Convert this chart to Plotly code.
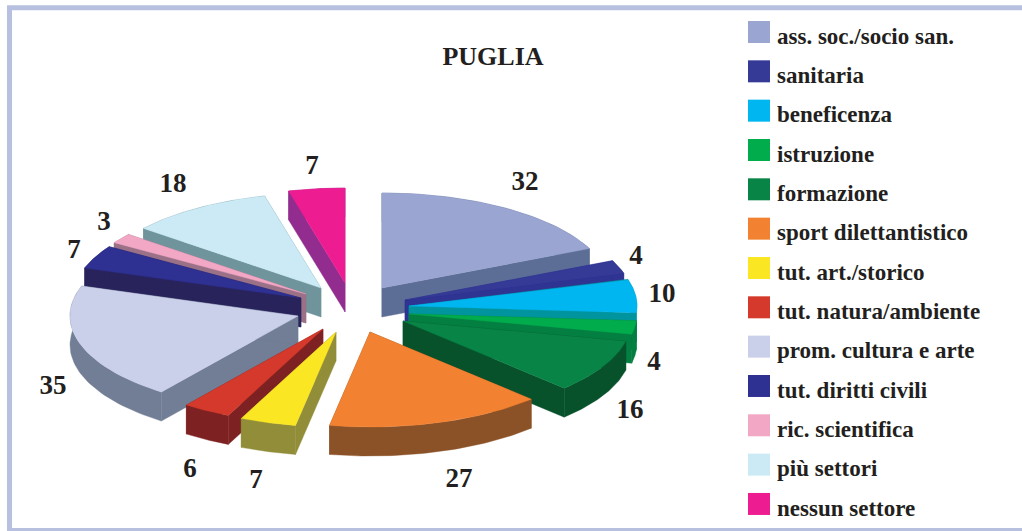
import numpy as np
import plotly.graph_objects as go

# ---- data ----
categories = ["ass. soc./socio san.", "sanitaria", "beneficenza", "istruzione", "formazione",
              "sport dilettantistico", "tut. art./storico", "tut. natura/ambiente",
              "prom. cultura e arte", "tut. diritti civili", "ric. scientifica",
              "più settori", "nessun settore"]
values = [32, 4, 10, 4, 16, 27, 7, 6, 35, 7, 3, 18, 7]

# ---- styles ----
top_colors = ["#9AA5D2", "#353A97", "#00B6F0", "#00AC4C", "#078446", "#F28231", "#FBE624",
              "#D5392B", "#CAD0E9", "#2E3192", "#F2A7C5", "#CBEAF5", "#ED1C91"]
side_colors = ["#5C6E96", "#2F3391", "#00949F", "#047F42", "#07522B", "#8C5227", "#918D39",
               "#7E2122", "#717E96", "#29235C", "#9A7187", "#6F949B", "#922D8F"]

# ---- layout of the exploded 3D pie (axis units = page pixels) ----
CX, CY, RX, RY, DEPTH = 358, 308, 228, 95, 29
pull_x = [24, 47, 51, 51, 45, 12, -22, -35, -60, -57, -52, -37, -13]
pull_y = [-20, -8, -2, 6, 13, 24, 24, 21, 8, -10, -14, -20, -25]
label_x = [525, 636, 662, 654, 630, 459, 256, 190, 53, 74, 104, 173, 312]
label_y = [183, 257, 295, 363, 411, 480, 481, 470, 387, 251, 223, 185, 167]

FONT = "Liberation Serif"
INK = "#231F20"

edges = np.cumsum([0] + values) / sum(values) * 2 * np.pi
mids = (edges[:-1] + edges[1:]) / 2
order = np.argsort(-np.cos(mids), kind="stable")

fig = go.Figure()


def poly(xs, ys, fill, line, width=0.4):
    fig.add_trace(go.Scatter(x=list(xs) + [xs[0]], y=list(ys) + [ys[0]], mode="lines",
                             fill="toself", fillcolor=fill,
                             line=dict(color=line, width=width),
                             hoverinfo="skip", showlegend=False))


for i in order:
    t = np.linspace(edges[i], edges[i + 1], 48)
    ax, ay = CX + pull_x[i], CY + pull_y[i]
    px = ax + RX * np.sin(t)
    py = ay - RY * np.cos(t)
    side, top = side_colors[i], top_colors[i]
    # two cut faces
    for k in (0, -1):
        poly([ax, px[k], px[k], ax], [ay, py[k], py[k] + DEPTH, ay + DEPTH], side, side)
    # outer rim
    poly(list(px) + list(px[::-1]), list(py) + list(py[::-1] + DEPTH), side, side)
    # top surface
    poly([ax] + list(px), [ay] + list(py), top, top)

# value labels
fig.add_trace(go.Scatter(x=label_x, y=label_y, mode="text", text=[str(v) for v in values],
                         textposition="middle center",
                         textfont=dict(family=FONT, size=27, color=INK, weight="bold"),
                         hoverinfo="skip", showlegend=False))

# legend
legend_y = [32 + i * 39.33 for i in range(len(categories))]
fig.add_trace(go.Scatter(x=[759] * len(categories), y=legend_y, mode="markers",
                         marker=dict(symbol="square", size=22, color=top_colors, line=dict(width=0)),
                         hovertext=categories, hoverinfo="text", showlegend=False))
fig.add_trace(go.Scatter(x=[777] * len(categories), y=[v + 6 for v in legend_y], mode="text",
                         text=categories, textposition="middle right",
                         textfont=dict(family=FONT, size=23, color=INK, weight="bold"),
                         hoverinfo="skip", showlegend=False))

fig.update_layout(
    width=1022, height=531, margin=dict(l=0, r=0, t=0, b=0),
    paper_bgcolor="white", plot_bgcolor="white",
    title=dict(text="<b>PUGLIA</b>", x=493 / 1022, y=1 - 56 / 531, xanchor="center", yanchor="middle",
               font=dict(family=FONT, size=26, color=INK)),
    xaxis=dict(range=[0, 1022], visible=False, fixedrange=True),
    yaxis=dict(range=[531, 0], visible=False, fixedrange=True),
    shapes=[dict(type="rect", xref="x", yref="y", x0=9.5, y0=7.7, x1=1060, y1=530.5,
                 line=dict(color="#B7C1DF", width=5), layer="below")],
)
fig.write_html("out.html", config=dict(displayModeBar=False),
               post_script="document.body.style.margin='0';document.documentElement.style.overflow='hidden';")
